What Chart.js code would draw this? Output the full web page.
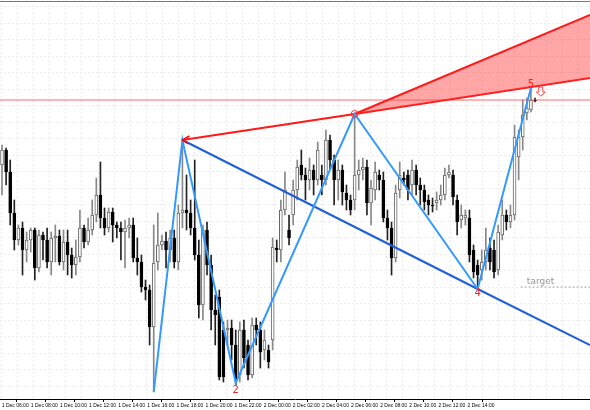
<!DOCTYPE html>
<html><head><meta charset="utf-8">
<script src="https://cdn.jsdelivr.net/npm/chart.js@4/dist/chart.umd.min.js"></script>
<style>html,body{margin:0;padding:0;background:#fff}#w{width:590px;height:410px}</style>
</head><body><div id="w"><canvas id="c"></canvas></div>
<script>
// candle values (price axis drawn reversed, top = 0)
const opens =[165,150,172,213,240,228,250,240,230,268,235,240,262,238,236,262,242,255,265,257,228,242,230,215,195,218,228,212,225,228,232,228,225,258,262,287,290,327,262,245,241,250,238,262,213,210,213,228,255,305,230,265,310,297,330,330,328,345,375,330,345,375,325,330,350,350,340,248,250,210,230,215,190,165,175,180,170,180,175,180,140,160,180,170,193,200,200,175,170,167,203,190,175,180,218,228,258,190,178,175,185,170,185,190,200,205,203,200,195,175,175,200,220,218,218,250,265,270,262,248,250,270,235,215,222,215,157,137,113,110,100];
const closes=[150,172,213,240,228,250,240,230,268,235,240,262,238,236,262,242,255,265,257,228,242,230,215,195,218,228,212,225,228,232,228,225,258,262,287,290,327,263,245,241,250,238,262,213,210,213,228,255,305,230,265,310,315,377,377,328,345,380,330,358,375,325,330,352,340,362,247,250,210,190,238,190,167,175,180,170,180,150,180,140,160,180,170,192,200,210,175,170,167,203,188,172,180,218,228,258,193,175,180,190,170,185,190,202,205,205,200,195,175,172,197,222,215,215,255,272,275,262,250,262,272,232,215,222,215,137,137,115,108,100,100];
const highs =[145,148,160,200,225,222,232,228,228,230,232,228,232,225,230,230,230,248,240,210,225,218,200,178,162,208,208,208,222,222,220,218,218,238,255,280,285,225,213,235,232,230,230,205,140,175,200,160,240,225,222,255,295,290,322,320,320,330,322,320,340,318,318,322,330,345,238,240,200,172,215,180,160,150,168,158,165,142,165,130,135,155,160,165,185,195,114,160,158,160,180,162,170,172,210,222,185,162,172,170,160,165,178,185,195,198,192,185,168,165,170,195,205,210,210,245,260,250,228,238,240,225,200,210,205,125,130,100,98,88,98];
const lows  =[195,185,225,250,245,275,262,252,280,272,260,268,275,262,265,270,275,278,275,262,248,245,235,222,228,235,232,242,238,260,268,238,262,275,292,300,345,392,270,250,268,262,268,270,228,230,235,260,318,320,275,330,345,380,382,345,360,385,382,368,380,378,345,368,360,368,350,262,262,215,245,225,200,180,200,190,195,185,195,185,170,205,200,205,210,215,210,190,180,215,225,200,190,222,240,275,262,198,185,200,195,195,205,210,215,212,210,205,200,178,205,235,228,225,262,278,289,280,270,270,278,275,240,230,228,220,180,150,120,112,102];
const tickLabels=["1 Dec 06:00","1 Dec 08:00","1 Dec 10:00","1 Dec 12:00","1 Dec 14:00","1 Dec 16:00","1 Dec 18:00","1 Dec 20:00","1 Dec 22:00","2 Dec 00:00","2 Dec 02:00","2 Dec 04:00","2 Dec 06:00","2 Dec 08:00","2 Dec 10:00","2 Dec 12:00","2 Dec 14:00"];
const tickPos=[-0.07,7.03,14.13,21.23,28.33,35.43,42.53,49.63,56.73,63.83,70.93,78.03,85.13,92.23,99.33,106.43,113.53];
const zigzag=[[37,392],[44,140],[57,383],[86,114],[116,289],[129,88]];
const blueLine=[[44,140],[116,289],[143.4,345]];
const redLow=[[44,140],[86,114],[143.4,78]];
const redHigh=[[86,114],[143.4,15]];
const hLine=[[-1,100],[144,100]];
const targetLine=[[126.5,287],[143.4,287]];
const pivotLabels=[["2",57,390],["4",116,293],["5",129,84]];

const idx=opens.map((_,i)=>i);
const pts=a=>a.map(p=>({x:p[0],y:p[1]}));
const bull=idx.map(i=>closes[i]<opens[i]);

const overlay={id:'ov',afterDatasetsDraw(ch){
  const c=ch.ctx,x=ch.scales.x,y=ch.scales.y;
  const X=v=>x.getPixelForValue(v),Y=v=>y.getPixelForValue(v);
  c.save();
  c.font='10px "DejaVu Sans"';c.textAlign='center';c.textBaseline='middle';c.fillStyle='#ff2020';
  pivotLabels.forEach(l=>c.fillText(l[0],X(l[1]),Y(l[2])));
  c.strokeStyle='#ff3030';c.lineWidth=1;c.beginPath();c.arc(X(zigzag[3][0]),Y(zigzag[3][1]),3.5,0,7);c.stroke();
  const ax=X(zigzag[1][0]),ay=Y(zigzag[1][1]);
  c.strokeStyle='#ff0000';c.lineWidth=1.5;c.beginPath();c.moveTo(ax+7,ay-4);c.lineTo(ax,ay);c.lineTo(ax+6,ay+4);c.stroke();
  const dx=X(131.4),dy=Y(92);
  c.strokeStyle='#ff4040';c.lineWidth=1;c.beginPath();
  c.moveTo(dx-2,dy-5);c.lineTo(dx+2,dy-5);c.lineTo(dx+2,dy);c.lineTo(dx+4.5,dy);c.lineTo(dx,dy+4);c.lineTo(dx-4.5,dy);c.lineTo(dx-2,dy);c.closePath();c.stroke();
  c.fillStyle='#999';c.font='9px "DejaVu Sans"';c.textAlign='left';c.fillText('target',X(128),Y(282));
  c.strokeStyle='#777';c.lineWidth=1;c.beginPath();c.moveTo(0,1.5);c.lineTo(590,1.5);c.stroke();
  c.restore();
}};

new Chart(document.getElementById('c'),{
  type:'bar',
  data:{datasets:[
    {type:'line',data:pts(redHigh),borderColor:'#ff1a1a',borderWidth:2,pointRadius:0,fill:1,backgroundColor:'rgba(255,60,60,0.45)',order:1},
    {type:'line',data:pts(redLow),borderColor:'#ff1a1a',borderWidth:2,pointRadius:0,fill:false,order:1},
    {type:'line',data:pts(hLine),borderColor:'rgba(255,70,70,0.8)',borderWidth:1,pointRadius:0,order:2},
    {type:'line',data:pts(targetLine),borderColor:'#aaa',borderWidth:1,borderDash:[2,2],pointRadius:0,order:2},
    {type:'line',data:pts(blueLine),borderColor:'#1f5fd8',borderWidth:2,pointRadius:0,order:1},
    {type:'line',data:pts(zigzag),borderColor:'#3399ff',borderWidth:2,pointRadius:0,order:0},
    {data:idx.map(i=>({x:i,y:[lows[i],highs[i]]})),backgroundColor:idx.map(i=>bull[i]?'#888':'#222'),barThickness:1,order:4,grouped:false},
    {data:idx.map(i=>({x:i,y:[opens[i],closes[i]===opens[i]?closes[i]+0.6:closes[i]]})),backgroundColor:idx.map(i=>bull[i]?'#fff':'#000'),borderColor:idx.map(i=>bull[i]?'#666':'#000'),borderWidth:1,borderSkipped:false,barThickness:3,order:3,grouped:false}
  ]},
  options:{responsive:true,maintainAspectRatio:false,animation:false,
    layout:{padding:0},
    plugins:{legend:{display:false},tooltip:{enabled:false}},
    scales:{
      x:{type:'linear',min:-0.49,max:143.4,offset:false,
        afterBuildTicks:a=>{a.ticks=tickPos.map(v=>({value:v}));},
        ticks:{autoSkip:false,maxRotation:0,minRotation:0,align:'start',padding:1,font:{size:5,family:'Liberation Sans'},color:'#000',
          callback:(v,i)=>tickLabels[i]},
        grid:{drawOnChartArea:false,tickLength:3,tickColor:'#000'},
        border:{color:'#000',display:true}},
      x2:{type:'linear',position:'bottom',min:-0.49,max:143.4,display:true,
        afterBuildTicks:a=>{const t=[];for(let v=-0.07;v<143.4;v+=4.02)t.push({value:v});a.ticks=t;},
        ticks:{display:false},grid:{color:'#ececec',drawTicks:false},border:{display:false,dash:[2,2]}},
      y:{reverse:true,min:0,max:399,
        afterBuildTicks:a=>{const t=[];for(let v=6.7;v<399;v+=16.5)t.push({value:v});a.ticks=t;},
        ticks:{display:false},
        grid:{color:'#ececec',drawTicks:false},
        border:{display:false,dash:[2,2]}}
    }},
  plugins:[overlay]
});
</script></body></html>
